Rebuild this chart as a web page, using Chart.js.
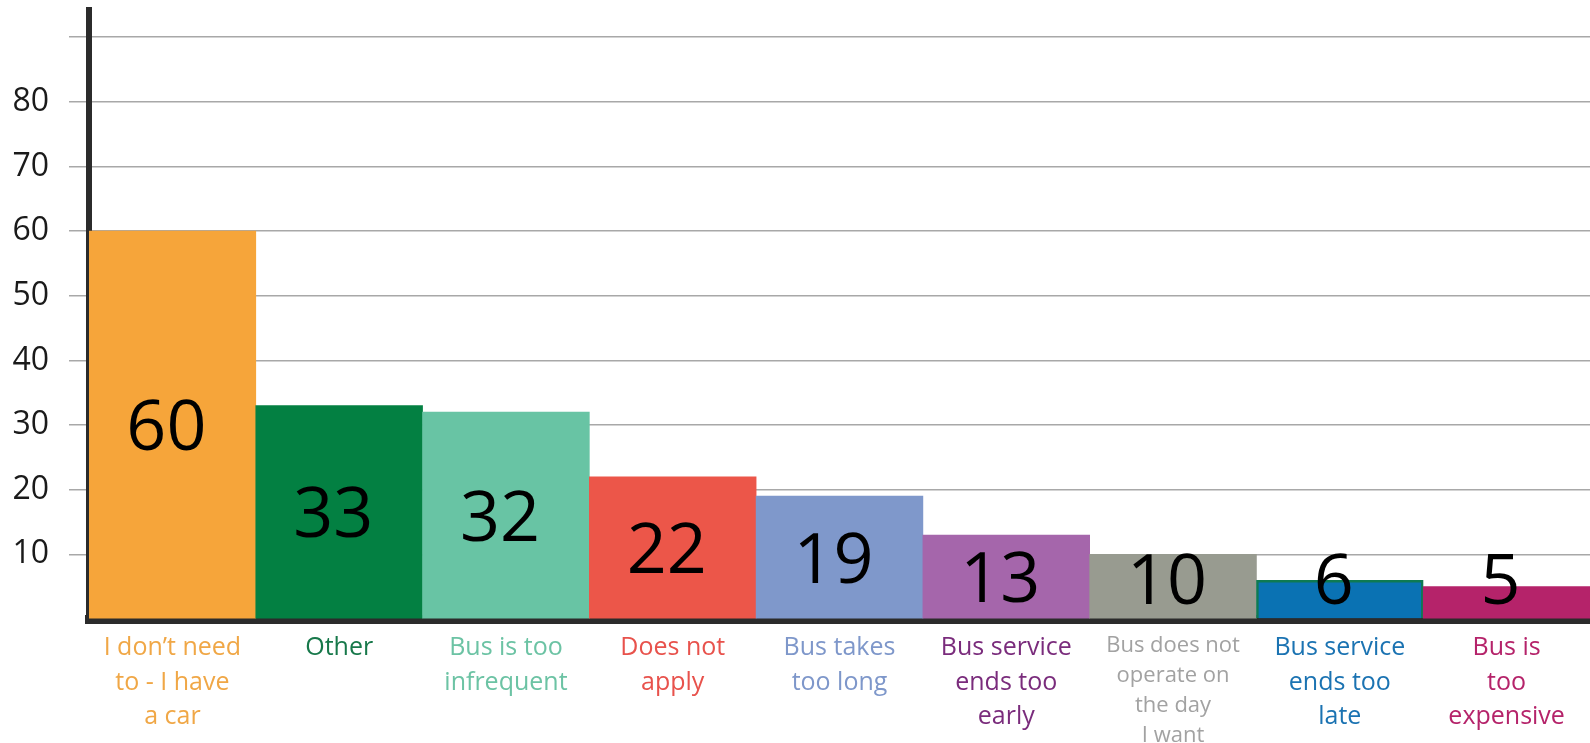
<!DOCTYPE html>
<html>
<head>
<meta charset="utf-8">
<title>Reasons for not using the bus</title>
<script src="https://cdn.jsdelivr.net/npm/chart.js@4/dist/chart.umd.min.js"></script>
<style>
  html, body { margin: 0; padding: 0; background: #ffffff; overflow: hidden; }
  #wrap { position: relative; width: 1590px; height: 743px; }
</style>
</head>
<body>
<div id="wrap"><canvas id="chart"></canvas></div>
<script>
// Survey responses: why people do not use the bus
const categories = [
  ['I don\u2019t need', 'to - I have', 'a car'],
  ['Other'],
  ['Bus is too', 'infrequent'],
  ['Does not', 'apply'],
  ['Bus takes', 'too long'],
  ['Bus service', 'ends too', 'early'],
  ['Bus does not', 'operate on', 'the day', 'I want'],
  ['Bus service', 'ends too', 'late'],
  ['Bus is', 'too', 'expensive']
];
const responses = [60, 33, 32, 22, 19, 13, 10, 6, 5];
const barColors = ['#F6A53A', '#038042', '#68C4A4', '#EC5649', '#7F98CB', '#A566AB', '#989B90', '#0A72B3', '#B5236A'];
const barBorders = ['#F6A53A', '#038042', '#68C4A4', '#EC5649', '#7F98CB', '#A566AB', '#989B90', '#0E7A52', '#B5236A'];
const labelColors = ['#F0A746', '#17784A', '#6CC3A4', '#E8524C', '#7E97CA', '#7A2C7C', '#A2A2A2', '#1B73B2', '#B5236A'];
const yMax = 94.2;
const yStep = 10;
const yLabelled = [10, 20, 30, 40, 50, 60, 70, 80];

const FONT = "'Open Sans', 'DejaVu Sans', sans-serif";

// Big value numbers printed on each bar
const valueLabels = {
  id: 'valueLabels',
  afterDatasetsDraw(chart) {
    const ctx = chart.ctx;
    const meta = chart.getDatasetMeta(0);
    const base = chart.scales.y.getPixelForValue(0);
    ctx.save();
    ctx.fillStyle = '#000000';
    ctx.font = '70px ' + FONT;
    ctx.textAlign = 'center';
    ctx.textBaseline = 'alphabetic';
    meta.data.forEach((bar, i) => {
      const mid = (bar.y + base) / 2;
      const cy = Math.min(mid, base - 40);
      ctx.fillText(String(responses[i]), bar.x - 6, cy + 25);
    });
    ctx.restore();
  }
};

new Chart(document.getElementById('chart'), {
  type: 'bar',
  data: {
    labels: categories,
    datasets: [{
      data: responses,
      backgroundColor: barColors,
      borderColor: barBorders,
      borderWidth: [0, 0, 0, 0, 0, 0, 0, 2.5, 0],
      borderSkipped: 'start',
      barPercentage: 1,
      categoryPercentage: 1
    }]
  },
  options: {
    responsive: true,
    maintainAspectRatio: false,
    animation: false,
    layout: { padding: { top: 10, left: 0, right: 0, bottom: 0 } },
    plugins: {
      legend: { display: false },
      tooltip: { enabled: false },
      title: { display: false }
    },
    scales: {
      x: {
        grid: { display: false, drawTicks: false },
        border: { display: true, color: '#2b2b2b', width: 9 },
        ticks: {
          autoSkip: false,
          maxRotation: 0,
          minRotation: 0,
          padding: 12,
          color: (c) => labelColors[c.index],
          font: (c) => c.index === 6
            ? { family: FONT, size: 22, lineHeight: 1.36 }
            : { family: FONT, size: 25, lineHeight: 1.38 }
        },
        afterFit(scale) {
          scale.height = 124;
          scale.paddingLeft = 0;
          scale.paddingRight = 0;
        }
      },
      y: {
        min: 0,
        max: yMax,
        grid: {
          color: (c) => c.tick && c.tick.value === 0 ? 'rgba(0,0,0,0)' : '#a8a8a8',
          lineWidth: 1.5,
          drawTicks: true,
          tickLength: 20
        },
        border: { display: true, color: '#2b2b2b', width: 6 },
        ticks: {
          stepSize: yStep,
          includeBounds: false,
          padding: 20,
          color: '#1a1a1a',
          font: { family: FONT, size: 32 },
          callback: (v) => yLabelled.includes(v) ? String(v) : ''
        },
        afterFit(scale) {
          scale.width = 89;
          scale.paddingTop = 0;
          scale.paddingBottom = 0;
        }
      }
    }
  },
  plugins: [valueLabels]
});
</script>
</body>
</html>
